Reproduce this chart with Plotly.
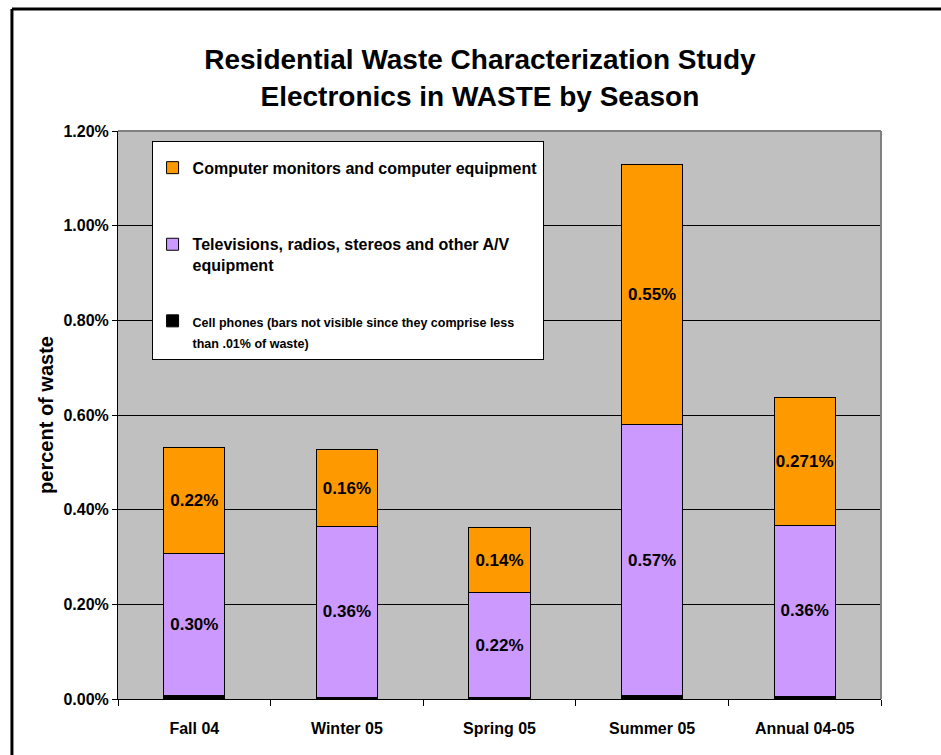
import plotly.graph_objects as go

categories = ["Fall 04", "Winter 05", "Spring 05", "Summer 05", "Annual 04-05"]
cell_phones = [0.00008, 0.00004, 0.00004, 0.00007, 0.00006]
tv_av = [0.00299, 0.00360, 0.00220, 0.00572, 0.00361]
computers = [0.00225, 0.00163, 0.00139, 0.00551, 0.00271]
tv_labels = ["0.30%", "0.36%", "0.22%", "0.57%", "0.36%"]
computer_labels = ["0.22%", "0.16%", "0.14%", "0.55%", "0.271%"]
y_ticks = [0, 0.002, 0.004, 0.006, 0.008, 0.010, 0.012]
y_tick_labels = ["0.00%", "0.20%", "0.40%", "0.60%", "0.80%", "1.00%", "1.20%"]

SANS = "Liberation Sans, Arial, sans-serif"

fig = go.Figure()
# stack order bottom-to-top: cell phones, TV, computers
fig.add_trace(go.Bar(
    x=categories, y=cell_phones,
    name="<span style='font-size:12.5px'>Cell phones (bars not visible since they comprise less<br>than .01% of waste)</span>",
    marker=dict(color="#000000", line=dict(color="#000000", width=1)),
    legendgroup="c", legendrank=3, textposition="none",
))
fig.add_trace(go.Bar(
    x=categories, y=tv_av,
    name="Televisions, radios, stereos and other A/V<br>equipment",
    marker=dict(color="#CC99FF", line=dict(color="#000000", width=1)),
    text=tv_labels, textposition="inside", insidetextanchor="middle",
    textangle=0, constraintext="none",
    textfont=dict(family=SANS, size=17, color="#000000", weight="bold"),
    legendgroup="b", legendrank=2,
))
fig.add_trace(go.Bar(
    x=categories, y=computers,
    name="Computer monitors and computer equipment<br> ",
    marker=dict(color="#FF9900", line=dict(color="#000000", width=1)),
    text=computer_labels, textposition="inside", insidetextanchor="middle",
    textangle=0, constraintext="none",
    textfont=dict(family=SANS, size=17, color="#000000", weight="bold"),
    legendgroup="a", legendrank=1,
))

fig.update_layout(
    width=941, height=755,
    margin=dict(l=118, r=60, t=131, b=56),
    paper_bgcolor="#FFFFFF",
    plot_bgcolor="#C0C0C0",
    barmode="stack",
    bargap=0.6,
    showlegend=True,
    title=dict(
        text="Residential Waste Characterization Study<br>Electronics in WASTE by Season",
        x=0.51, xanchor="center", y=0.908, yanchor="middle",
        font=dict(family=SANS, size=28, color="#000000", weight="bold"),
    ),
    legend=dict(
        x=0.044, y=0.983, xanchor="left", yanchor="top",
        bgcolor="#FFFFFF", bordercolor="#000000", borderwidth=1,
        font=dict(family=SANS, size=16, color="#000000", weight="bold"),
        traceorder="grouped", tracegroupgap=32, valign="top",
        itemwidth=30,
        title=dict(text=" ", font=dict(size=7)),
        itemclick=False,
    ),
    font=dict(family=SANS, color="#000000"),
    xaxis=dict(
        showline=True, linecolor="#000000", linewidth=1,
        ticks="outside", ticklen=6, tickcolor="#000000", tickson="boundaries",
        ticklabelstandoff=15,
        tickfont=dict(family=SANS, size=16, color="#000000", weight="bold"),
        showgrid=False, zeroline=False, mirror=False,
    ),
    yaxis=dict(
        range=[0, 0.012],
        tickvals=y_ticks, ticktext=y_tick_labels,
        showline=True, linecolor="#000000", linewidth=1,
        ticks="outside", ticklen=5, tickcolor="#000000",
        tickfont=dict(family=SANS, size=16, color="#000000", weight="bold"),
        showgrid=True, gridcolor="#000000", gridwidth=1,
        zeroline=False,
        title=dict(text="percent of waste", standoff=4,
                   font=dict(family=SANS, size=20, color="#000000", weight="bold")),
    ),
    shapes=[
        dict(type="line", xref="paper", yref="paper", x0=0, x1=1, y0=1, y1=1,
             line=dict(color="#808080", width=2), layer="above"),
        dict(type="line", xref="paper", yref="paper", x0=1, x1=1, y0=0, y1=1,
             line=dict(color="#808080", width=2), layer="above"),
        dict(type="line", xref="paper", yref="paper", x0=-0.139, x1=1.2, y0=1.2148, y1=1.2148,
             line=dict(color="#000000", width=3)),
        dict(type="line", xref="paper", yref="paper", x0=-0.139, x1=-0.139, y0=1.2148, y1=-0.2,
             line=dict(color="#000000", width=3)),
    ],
)

fig.write_html("out.html")
